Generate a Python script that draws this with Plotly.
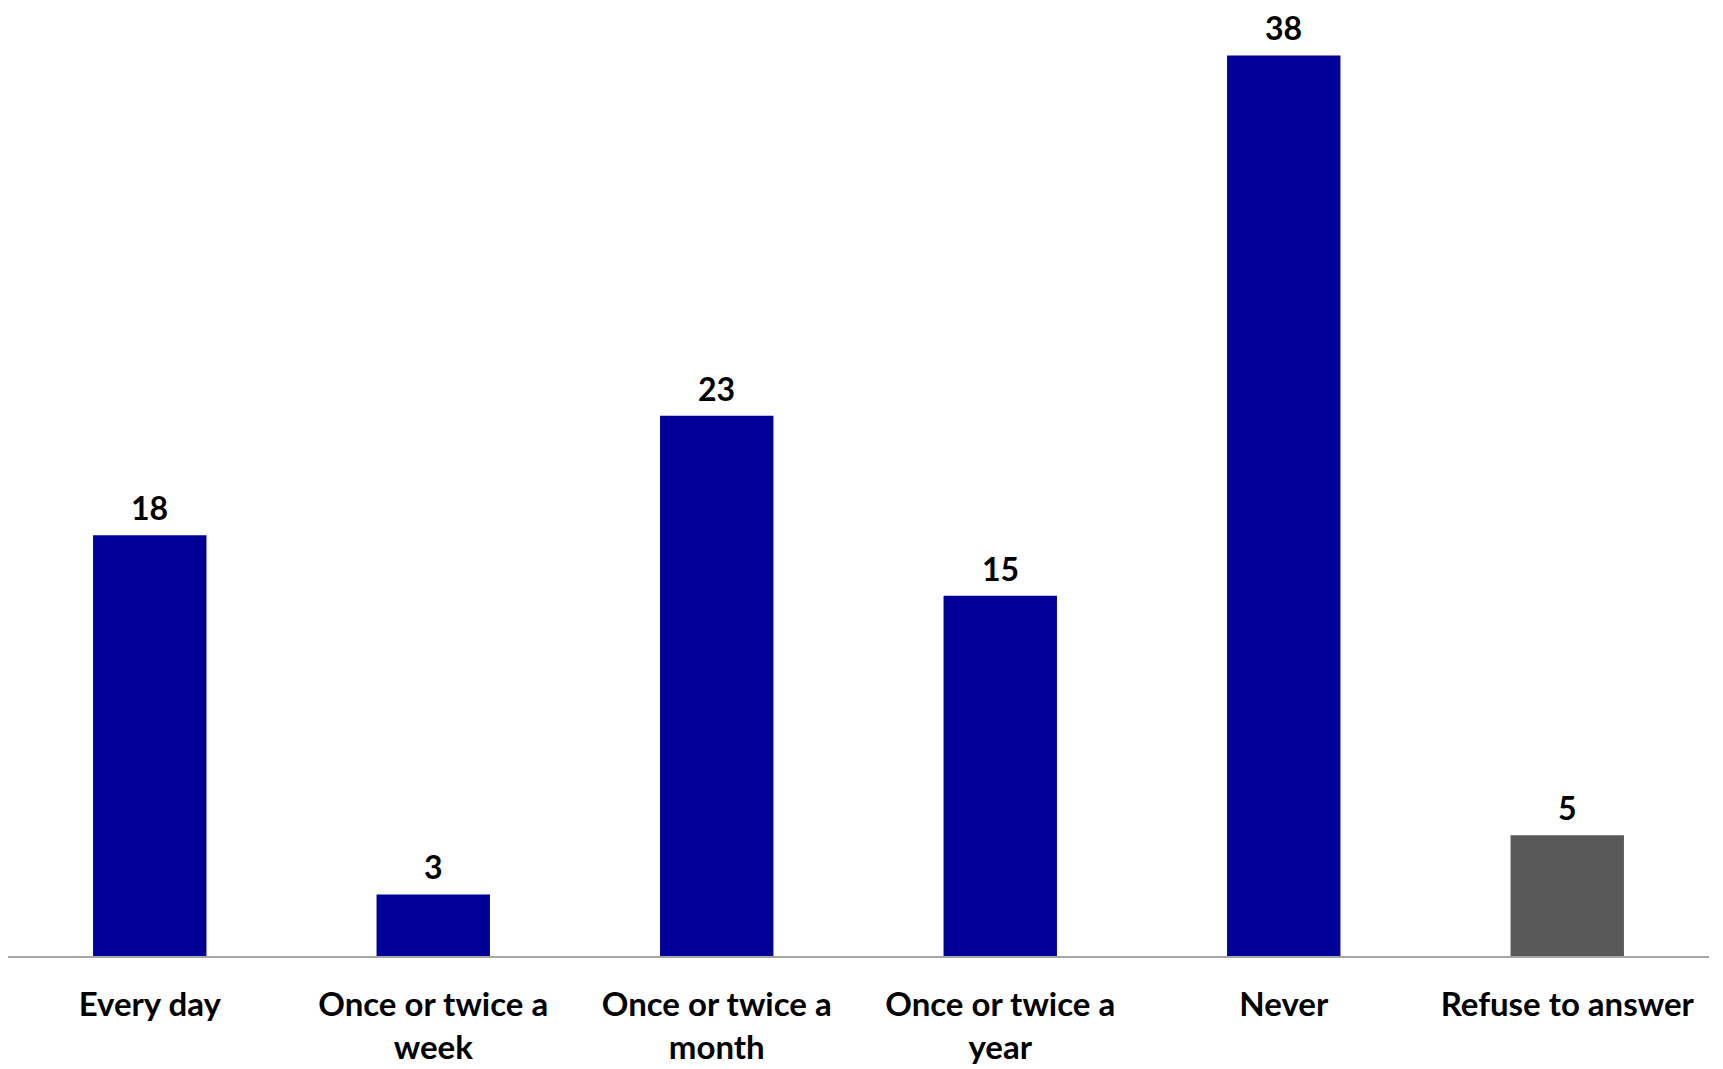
import plotly.graph_objects as go

# frequency categories (two-line labels as on the original)
categories = ["Every day", "Once or twice a week", "Once or twice a month",
              "Once or twice a year", "Never", "Refuse to answer"]
tick_labels = ["Every day", "Once or twice a<br>week", "Once or twice a<br>month",
               "Once or twice a<br>year", "Never", "Refuse to answer"]
# percentages
values = [17.75, 2.6, 22.8, 15.2, 38.0, 5.1]
bar_colors = ["#000099", "#000099", "#000099", "#000099", "#000099", "#595959"]

FONT = "Lato"

fig = go.Figure()
fig.add_trace(go.Bar(
    x=categories,
    y=values,
    marker=dict(color=bar_colors, line=dict(width=0)),
    hoverinfo="x+y",
))

# value labels above the bars (rounded like the source)
for cat, v in zip(categories, values):
    fig.add_annotation(
        x=cat, y=v, xref="x", yref="y",
        text=f"{v:.0f}", showarrow=False,
        yanchor="bottom", yshift=7, borderpad=0,
        font=dict(family=FONT, size=32, color="#000000", weight="bold"),
    )

# page body adds an 8px margin, so the figure is a bit smaller than the window
fig.update_layout(
    width=1715, height=1061,
    margin=dict(l=0, r=14, t=0, b=113),
    plot_bgcolor="white", paper_bgcolor="white",
    bargap=0.6,
    showlegend=False,
    font=dict(family=FONT, color="#000000"),
)
fig.update_xaxes(
    tickmode="array", tickvals=categories, ticktext=tick_labels,
    tickfont=dict(family=FONT, size=33, color="#000000", weight="bold"),
    showline=True, linecolor="#A6A6A6", linewidth=2,
    showgrid=False, ticks="", ticklabelstandoff=18,
)
fig.update_yaxes(
    range=[0, 40], visible=False, showgrid=False, zeroline=False,
)

fig.write_html("out.html")
